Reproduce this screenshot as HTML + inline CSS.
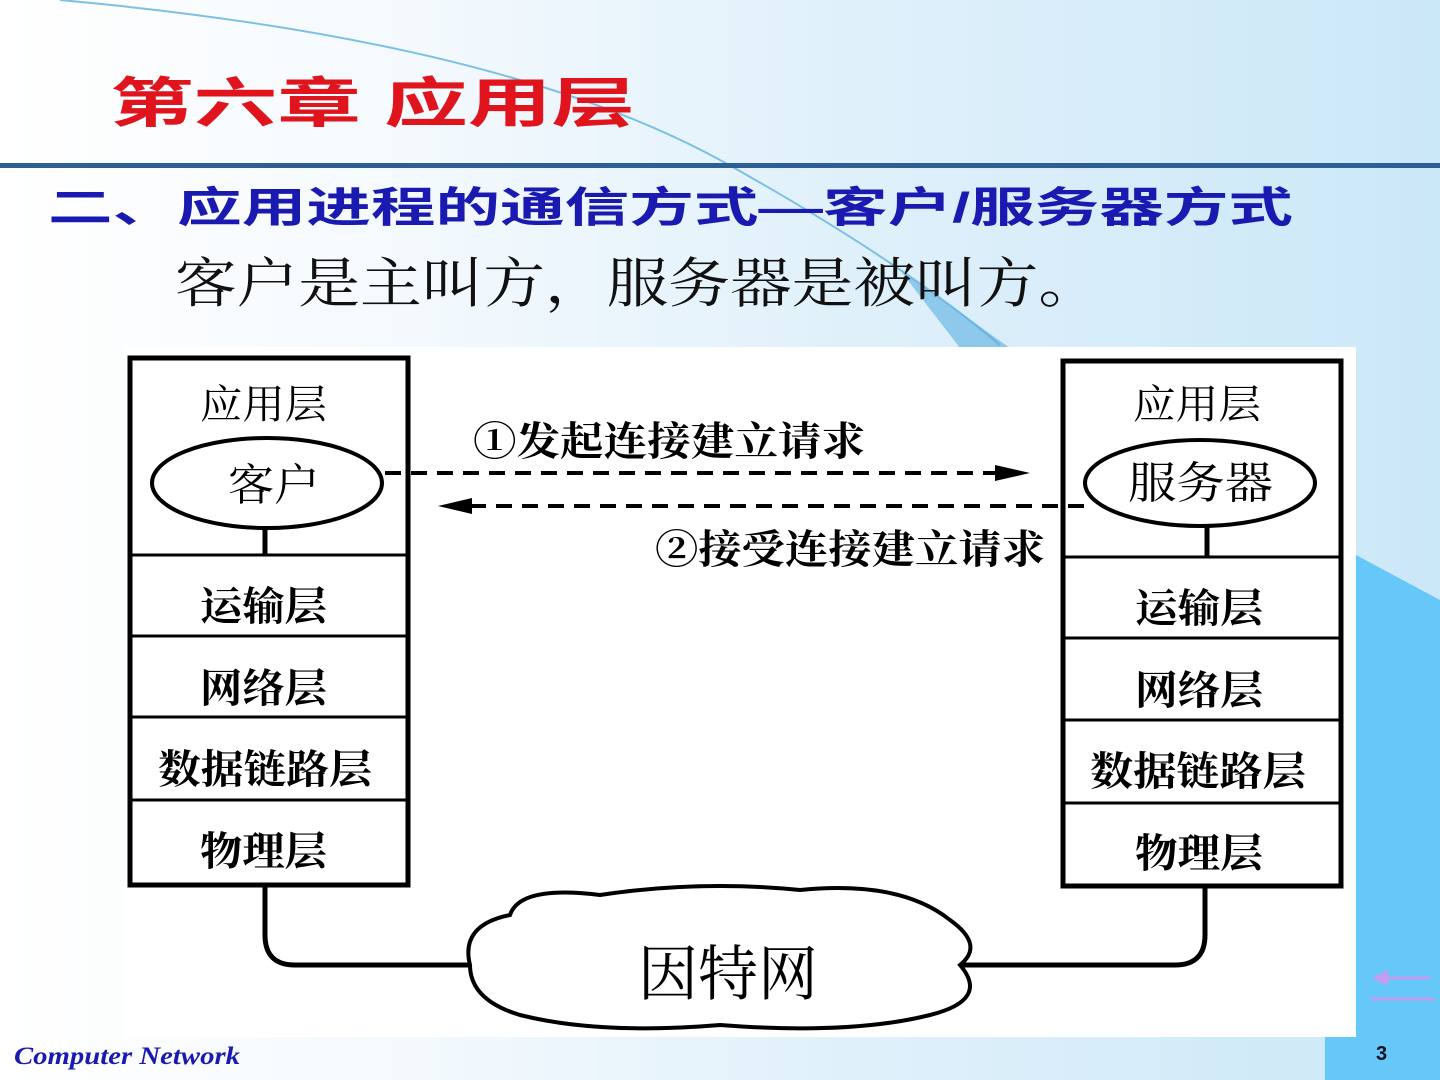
<!DOCTYPE html>
<html><head><meta charset="utf-8"><style>
html,body{margin:0;padding:0}
body{width:1440px;height:1080px;overflow:hidden;position:relative;font-family:"Liberation Serif","Noto Serif CJK SC",serif;background:linear-gradient(90deg,#ffffff 0%,#f3f9fd 30%,#dff0fa 60%,#cbe8f8 100%)}
</style></head><body>
<svg width="1440" height="1080" style="position:absolute;left:0;top:0" xmlns="http://www.w3.org/2000/svg">
<polygon points="1356,555 1440,600 1440,1080 1356,1080" fill="#66c8f8"/>
<rect x="1325" y="1037" width="115" height="43" fill="#66c8f8"/>
<path d="M60,0 Q500,40 720,160 Q900,260 1000,345" stroke="#7cc0e4" stroke-width="2" fill="none"/>
<path d="M900,270 L1010,348 L960,348 Z" fill="#5aaee0" opacity="0.6"/>
<rect x="0" y="163" width="1440" height="5" fill="#2d5e96"/>
<text x="110" y="122" font-size="54" font-weight="bold" fill="#e0141c" font-family="Liberation Sans, Noto Sans CJK SC, sans-serif" textLength="525" lengthAdjust="spacingAndGlyphs">第六章  应用层</text>
<text x="48" y="222" font-size="42" font-weight="bold" fill="#1a1ab0" font-family="Liberation Sans, Noto Sans CJK SC, sans-serif" textLength="1245" lengthAdjust="spacingAndGlyphs">二、应用进程的通信方式—客户/服务器方式</text>
<text x="175" y="302" font-size="54" fill="#111" font-family="Liberation Serif, Noto Serif CJK SC, serif" textLength="925" lengthAdjust="spacingAndGlyphs">客户是主叫方，服务器是被叫方。</text>
<rect x="125" y="347" width="1231" height="690" fill="#fff"/>
<g fill="none" stroke="#000">
<rect x="130" y="358" width="278" height="527" stroke-width="5"/>
<line x1="130" y1="555" x2="408" y2="555" stroke-width="3"/>
<line x1="130" y1="636" x2="408" y2="636" stroke-width="3"/>
<line x1="130" y1="717" x2="408" y2="717" stroke-width="3"/>
<line x1="130" y1="800" x2="408" y2="800" stroke-width="3"/>
<ellipse cx="267" cy="483" rx="115" ry="45" stroke-width="4"/>
<line x1="265" y1="528" x2="265" y2="555" stroke-width="5"/>
<rect x="1063" y="361" width="278" height="525" stroke-width="5"/>
<line x1="1063" y1="557" x2="1341" y2="557" stroke-width="3"/>
<line x1="1063" y1="638" x2="1341" y2="638" stroke-width="3"/>
<line x1="1063" y1="720" x2="1341" y2="720" stroke-width="3"/>
<line x1="1063" y1="803" x2="1341" y2="803" stroke-width="3"/>
<ellipse cx="1200" cy="483" rx="115" ry="43" stroke-width="4"/>
<line x1="1207" y1="526" x2="1207" y2="557" stroke-width="5"/>
<line x1="385" y1="473" x2="1000" y2="473" stroke-width="4" stroke-dasharray="16,10"/>
<line x1="470" y1="506" x2="1090" y2="506" stroke-width="4" stroke-dasharray="16,10"/>
<path d="M265,887 V935 Q265,965 295,965 H470" stroke-width="5"/>
<path d="M1205,888 V935 Q1205,965 1175,965 H960" stroke-width="5"/>
<path d="M470,965 Q460,925 510,915 Q520,885 600,895 Q700,880 800,890 Q900,880 950,920 Q985,945 960,965 Q990,1000 930,1015 Q850,1035 720,1025 Q600,1035 520,1015 Q470,1000 470,965 Z" stroke-width="4"/>
</g>
<polygon points="1030,473 995,465 995,481" fill="#000"/>
<polygon points="438,506 472,498 472,514" fill="#000"/>
<g font-family="Liberation Serif, Noto Serif CJK SC, serif" fill="#000" font-weight="bold">
<text x="200" y="418" font-size="40" font-weight="normal" textLength="127" lengthAdjust="spacingAndGlyphs">应用层</text>
<text x="228" y="500" font-size="44" font-weight="normal" textLength="92" lengthAdjust="spacingAndGlyphs">客户</text>
<text x="200" y="620" font-size="40" textLength="127" lengthAdjust="spacingAndGlyphs">运输层</text>
<text x="200" y="702" font-size="40" textLength="127" lengthAdjust="spacingAndGlyphs">网络层</text>
<text x="158" y="783" font-size="40" textLength="214" lengthAdjust="spacingAndGlyphs">数据链路层</text>
<text x="200" y="865" font-size="40" textLength="127" lengthAdjust="spacingAndGlyphs">物理层</text>
<text x="1133" y="418" font-size="40" font-weight="normal" textLength="128" lengthAdjust="spacingAndGlyphs">应用层</text>
<text x="1128" y="498" font-size="44" font-weight="normal" textLength="145" lengthAdjust="spacingAndGlyphs">服务器</text>
<text x="1135" y="622" font-size="40" textLength="128" lengthAdjust="spacingAndGlyphs">运输层</text>
<text x="1135" y="704" font-size="40" textLength="128" lengthAdjust="spacingAndGlyphs">网络层</text>
<text x="1090" y="785" font-size="40" textLength="216" lengthAdjust="spacingAndGlyphs">数据链路层</text>
<text x="1135" y="867" font-size="40" textLength="128" lengthAdjust="spacingAndGlyphs">物理层</text>
<text x="473" y="455" font-size="40" textLength="392" lengthAdjust="spacingAndGlyphs">①发起连接建立请求</text>
<text x="655" y="563" font-size="40" textLength="390" lengthAdjust="spacingAndGlyphs">②接受连接建立请求</text>
<text x="638" y="995" font-size="60" font-weight="normal" textLength="180" lengthAdjust="spacingAndGlyphs">因特网</text>
</g>
<line x1="1378" y1="978" x2="1430" y2="978" stroke="#c49cf0" stroke-width="3"/>
<polygon points="1372,978 1388,970 1388,986" fill="#c49cf0"/>
<line x1="1370" y1="999" x2="1434" y2="999" stroke="#c49cf0" stroke-width="3"/>
<text x="14" y="1064" font-size="25" font-style="italic" font-weight="bold" fill="#1a1ab0" font-family="Liberation Serif, serif" textLength="226" lengthAdjust="spacingAndGlyphs">Computer  Network</text>
<text x="1376" y="1060" font-size="20" font-weight="bold" fill="#112" font-family="Liberation Sans, sans-serif">3</text>
</svg>
</body></html>
